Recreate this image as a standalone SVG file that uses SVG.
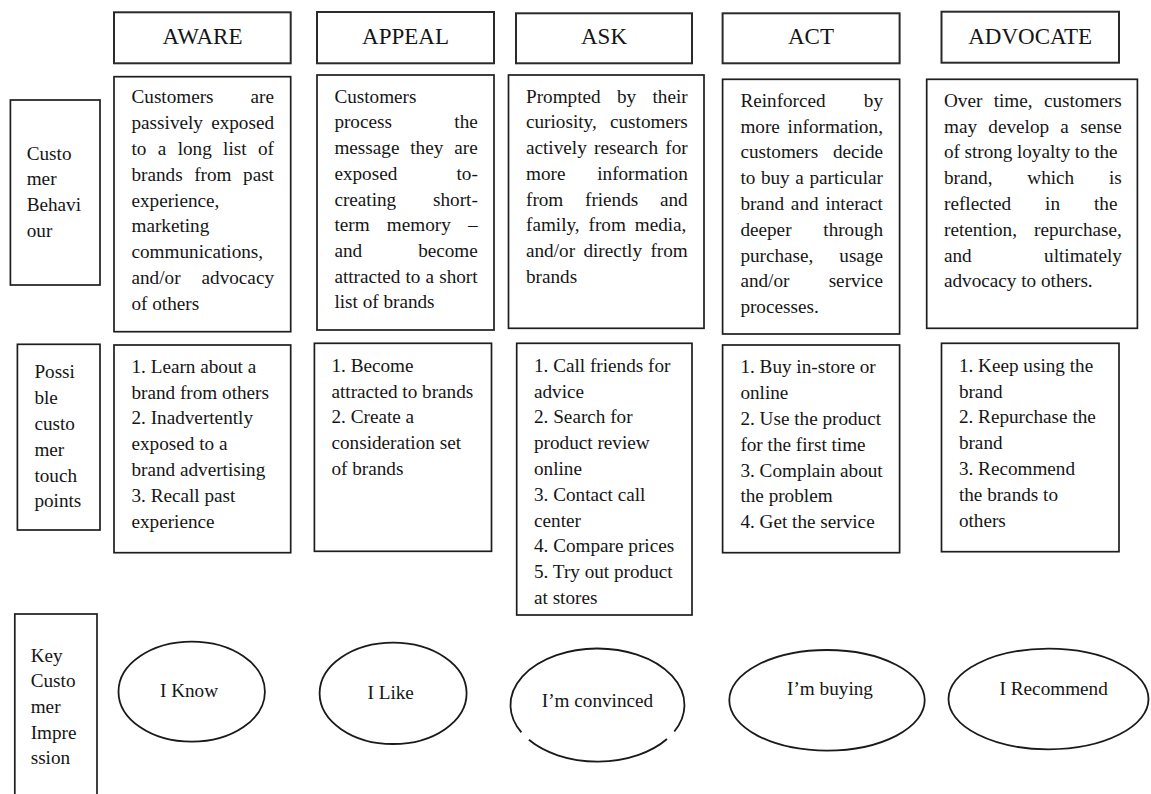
<svg xmlns="http://www.w3.org/2000/svg" width="1151" height="794" viewBox="0 0 1151 794">
  <style>
    .bg { fill: #ffffff; }
    .box { fill: #ffffff; stroke: #1e1e1e; stroke-width: 1.7; }
    .hbox { fill: #ffffff; stroke: #2a2a2a; stroke-width: 2; }
    .oval { fill: #ffffff; stroke: #1a1a1a; stroke-width: 1.8; }
    .arc { fill: none; stroke: #1a1a1a; stroke-width: 1.8; }
    text { font-family: "Liberation Serif", "Times New Roman", serif; fill: #151515; }
    .t { font-size: 19.2px; }
    .r { font-size: 19.2px; text-anchor: end; }
    .m { font-size: 19.2px; text-anchor: middle; }
    .h { font-size: 23px; text-anchor: middle; }
  </style>
  <rect class="bg" x="0" y="0" width="1151" height="794"/>

  <!-- stage headers -->
  <g id="header-aware">
    <rect class="hbox" x="114" y="12.3" width="176.7" height="51"/>
    <text class="h" x="202.5" y="44">AWARE</text>
  </g>
  <g id="header-appeal">
    <rect class="hbox" x="317" y="12" width="177" height="51.3"/>
    <text class="h" x="405.5" y="44">APPEAL</text>
  </g>
  <g id="header-ask">
    <rect class="hbox" x="516" y="13.3" width="176" height="50"/>
    <text class="h" x="604" y="44">ASK</text>
  </g>
  <g id="header-act">
    <rect class="hbox" x="722.6" y="13.3" width="177" height="50"/>
    <text class="h" x="811" y="44">ACT</text>
  </g>
  <g id="header-advocate">
    <rect class="hbox" x="941.5" y="11.7" width="177.5" height="51"/>
    <text class="h" x="1030.2" y="44">ADVOCATE</text>
  </g>

  <!-- row labels -->
  <g id="label-behaviour">
    <rect class="box" x="10.4" y="100" width="89.6" height="185"/>
    <text class="t" x="26.7" y="159.5">Custo</text>
    <text class="t" x="26.7" y="185.3">mer</text>
    <text class="t" x="26.7" y="211.1">Behavi</text>
    <text class="t" x="26.7" y="236.9">our</text>
  </g>
  <g id="label-touchpoints">
    <rect class="box" x="17.4" y="344.3" width="82.6" height="185.7"/>
    <text class="t" x="34.4" y="378.3">Possi</text>
    <text class="t" x="34.4" y="404.1">ble</text>
    <text class="t" x="34.4" y="429.9">custo</text>
    <text class="t" x="34.4" y="455.7">mer</text>
    <text class="t" x="34.4" y="481.5">touch</text>
    <text class="t" x="34.4" y="507.3">points</text>
  </g>
  <g id="label-impression">
    <rect class="box" x="14.8" y="614" width="82.2" height="195"/>
    <text class="t" x="30.7" y="661.7">Key</text>
    <text class="t" x="30.7" y="687.3">Custo</text>
    <text class="t" x="30.7" y="712.9">mer</text>
    <text class="t" x="30.7" y="738.5">Impre</text>
    <text class="t" x="30.7" y="764.1">ssion</text>
  </g>

  <!-- customer behaviour -->
  <g id="behaviour-aware">
    <rect class="box" x="114" y="76.7" width="176.7" height="255"/>
    <text class="t" x="131.5" y="103.3">Customers</text>
    <text class="r" x="274" y="103.3">are</text>
    <text class="t" x="131.5" y="129.1">passively</text>
    <text class="r" x="274" y="129.1">exposed</text>
    <text class="t" x="131.5" y="154.9" style="word-spacing:6.55px">to a long list of</text>
    <text class="t" x="131.5" y="180.7" style="word-spacing:6.75px">brands from past</text>
    <text class="t" x="131.5" y="206.5">experience,</text>
    <text class="t" x="131.5" y="232.3">marketing</text>
    <text class="t" x="131.5" y="258.1">communications,</text>
    <text class="t" x="131.5" y="283.9">and/or</text>
    <text class="r" x="274" y="283.9">advocacy</text>
    <text class="t" x="131.5" y="309.7">of others</text>
  </g>
  <g id="behaviour-appeal">
    <rect class="box" x="317" y="75" width="177" height="255"/>
    <text class="t" x="334.4" y="102.7">Customers</text>
    <text class="t" x="334.4" y="128.4">process</text>
    <text class="r" x="477.8" y="128.4">the</text>
    <text class="t" x="334.4" y="154.1" style="word-spacing:6.1px">message they are</text>
    <text class="t" x="334.4" y="179.8">exposed</text>
    <text class="r" x="477.8" y="179.8">to-</text>
    <text class="t" x="334.4" y="205.5">creating</text>
    <text class="r" x="477.8" y="205.5">short-</text>
    <text class="t" x="334.4" y="231.2" style="word-spacing:12.5px">term memory –</text>
    <text class="t" x="334.4" y="256.9">and</text>
    <text class="r" x="477.8" y="256.9">become</text>
    <text class="t" x="334.4" y="282.6" style="word-spacing:0.3px">attracted to a short</text>
    <text class="t" x="334.4" y="308.3">list of brands</text>
  </g>
  <g id="behaviour-ask">
    <rect class="box" x="508.5" y="75" width="195.5" height="253.3"/>
    <text class="t" x="526" y="102.7" style="word-spacing:11.55px">Prompted by their</text>
    <text class="t" x="526" y="128.4">curiosity,</text>
    <text class="r" x="687.8" y="128.4">customers</text>
    <text class="t" x="526" y="154.1" style="word-spacing:2.55px">actively research for</text>
    <text class="t" x="526" y="179.8">more</text>
    <text class="r" x="687.8" y="179.8">information</text>
    <text class="t" x="526" y="205.5" style="word-spacing:16.9px">from friends and</text>
    <text class="t" x="526" y="231.2" style="word-spacing:4.1px">family, from media,</text>
    <text class="t" x="526" y="256.9" style="word-spacing:3.6px">and/or directly from</text>
    <text class="t" x="526" y="282.6">brands</text>
  </g>
  <g id="behaviour-act">
    <rect class="box" x="722.6" y="79.3" width="177" height="254.7"/>
    <text class="t" x="740.4" y="106.7">Reinforced</text>
    <text class="r" x="883" y="106.7">by</text>
    <text class="t" x="740.4" y="132.5">more</text>
    <text class="r" x="883" y="132.5">information,</text>
    <text class="t" x="740.4" y="158.3">customers</text>
    <text class="r" x="883" y="158.3">decide</text>
    <text class="t" x="740.4" y="184.1" style="word-spacing:0.8px">to buy a particular</text>
    <text class="t" x="740.4" y="209.9" style="word-spacing:2px">brand and interact</text>
    <text class="t" x="740.4" y="235.7">deeper</text>
    <text class="r" x="883" y="235.7">through</text>
    <text class="t" x="740.4" y="261.5">purchase,</text>
    <text class="r" x="883" y="261.5">usage</text>
    <text class="t" x="740.4" y="287.3">and/or</text>
    <text class="r" x="883" y="287.3">service</text>
    <text class="t" x="740.4" y="313.1">processes.</text>
  </g>
  <g id="behaviour-advocate">
    <rect class="box" x="926.7" y="79.3" width="210.7" height="249"/>
    <text class="t" x="944" y="106.7" style="word-spacing:6.55px">Over time, customers</text>
    <text class="t" x="944" y="132.5" style="word-spacing:6.5px">may develop a sense</text>
    <text class="t" x="944" y="158.3" style="word-spacing:-0.3px">of strong loyalty to the</text>
    <text class="t" x="944" y="184.1" style="word-spacing:30px">brand, which is</text>
    <text class="t" x="944" y="209.9" style="word-spacing:29.2px">reflected in the</text>
    <text class="t" x="944" y="235.7">retention,</text>
    <text class="r" x="1121.9" y="235.7">repurchase,</text>
    <text class="t" x="944" y="261.5">and</text>
    <text class="r" x="1121.9" y="261.5">ultimately</text>
    <text class="t" x="944" y="287.3">advocacy to others.</text>
  </g>

  <!-- possible customer touch points -->
  <g id="touch-aware">
    <rect class="box" x="114" y="345" width="176.7" height="207.7"/>
    <text class="t" x="131.5" y="372.7">1. Learn about a</text>
    <text class="t" x="131.5" y="398.5">brand from others</text>
    <text class="t" x="131.5" y="424.3">2. Inadvertently</text>
    <text class="t" x="131.5" y="450.1">exposed to a</text>
    <text class="t" x="131.5" y="475.9">brand advertising</text>
    <text class="t" x="131.5" y="501.7">3. Recall past</text>
    <text class="t" x="131.5" y="527.5">experience</text>
  </g>
  <g id="touch-appeal">
    <rect class="box" x="314.4" y="343.3" width="177.1" height="208"/>
    <text class="t" x="331.5" y="371.7">1. Become</text>
    <text class="t" x="331.5" y="397.5">attracted to brands</text>
    <text class="t" x="331.5" y="423.3">2. Create a</text>
    <text class="t" x="331.5" y="449.1">consideration set</text>
    <text class="t" x="331.5" y="474.9">of brands</text>
  </g>
  <g id="touch-ask">
    <rect class="box" x="516.7" y="343.3" width="175.3" height="271.7"/>
    <text class="t" x="534" y="371.7">1. Call friends for</text>
    <text class="t" x="534" y="397.5">advice</text>
    <text class="t" x="534" y="423.3">2. Search for</text>
    <text class="t" x="534" y="449.1">product review</text>
    <text class="t" x="534" y="474.9">online</text>
    <text class="t" x="534" y="500.7">3. Contact call</text>
    <text class="t" x="534" y="526.5">center</text>
    <text class="t" x="534" y="552.3">4. Compare prices</text>
    <text class="t" x="534" y="578.1">5. Try out product</text>
    <text class="t" x="534" y="603.9">at stores</text>
  </g>
  <g id="touch-act">
    <rect class="box" x="722.6" y="345" width="177" height="207.7"/>
    <text class="t" x="740.4" y="373.3">1. Buy in-store or</text>
    <text class="t" x="740.4" y="399.1">online</text>
    <text class="t" x="740.4" y="424.9">2. Use the product</text>
    <text class="t" x="740.4" y="450.7">for the first time</text>
    <text class="t" x="740.4" y="476.5">3. Complain about</text>
    <text class="t" x="740.4" y="502.3">the problem</text>
    <text class="t" x="740.4" y="528.1">4. Get the service</text>
  </g>
  <g id="touch-advocate">
    <rect class="box" x="941.5" y="343.3" width="177.5" height="208.4"/>
    <text class="t" x="958.9" y="371.7">1. Keep using the</text>
    <text class="t" x="958.9" y="397.5">brand</text>
    <text class="t" x="958.9" y="423.3">2. Repurchase the</text>
    <text class="t" x="958.9" y="449.1">brand</text>
    <text class="t" x="958.9" y="474.9">3. Recommend</text>
    <text class="t" x="958.9" y="500.7">the brands to</text>
    <text class="t" x="958.9" y="526.5">others</text>
  </g>

  <!-- key customer impressions -->
  <g id="impression-know">
    <ellipse class="oval" cx="191.7" cy="691.7" rx="73.2" ry="50"/>
    <text class="m" x="189" y="697">I Know</text>
  </g>
  <g id="impression-like">
    <ellipse class="oval" cx="393.1" cy="693.3" rx="73.5" ry="50.7"/>
    <text class="m" x="390.7" y="699">I Like</text>
  </g>
  <g id="impression-convinced">
    <!-- outline broken in two places on its lower side -->
    <path class="arc" d="M 667 739 A 87 56.5 0 0 1 528.9 739.8"/>
    <path class="arc" d="M 521.4 732.4 A 87 56.5 0 1 1 674.3 731.5"/>
    <text class="m" x="597.5" y="706.7">I’m convinced</text>
  </g>
  <g id="impression-buying">
    <ellipse class="oval" cx="827" cy="700.3" rx="97.7" ry="50.3"/>
    <text class="m" x="830" y="695">I’m buying</text>
  </g>
  <g id="impression-recommend">
    <ellipse class="oval" cx="1048.5" cy="699" rx="100" ry="50.3"/>
    <text class="m" x="1053.7" y="695">I Recommend</text>
  </g>
</svg>
